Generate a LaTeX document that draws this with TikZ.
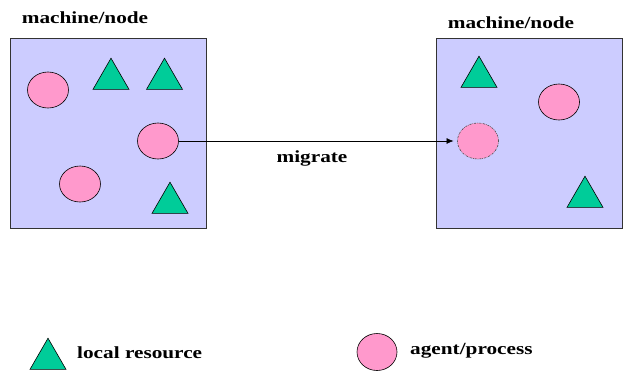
\documentclass[tikz,border=0pt]{standalone}
\usepackage{fontspec}
\setmainfont{Liberation Serif}[FakeStretch=1.25]
\usepackage{tikz}
\usetikzlibrary{arrows.meta}
\usetikzlibrary{positioning}
\usetikzlibrary{shapes.geometric}

\definecolor{boxfill}{RGB}{204,204,255}
\definecolor{agentpink}{RGB}{255,153,204}
\definecolor{resgreen}{RGB}{0,204,153}

\tikzset{
  machine/.style={draw=black!80,line width=0.8pt,fill=boxfill,
      inner sep=0pt,outer sep=0pt},
  agent/.style={ellipse,draw=black,line width=0.6pt,fill=agentpink,
      inner sep=0pt,outer sep=0pt,minimum width=41pt,minimum height=36pt},
  ghost/.style={agent,dash pattern={on 2pt off 1pt on 0.6pt off 1pt},
      draw=black!70},
  resource/.style={regular polygon,regular polygon sides=3,draw=black,
      line width=0.6pt,fill=resgreen,inner sep=0pt,outer sep=0pt,
      minimum size=41.6pt},
  lbl/.style={font=\fontsize{17}{20}\selectfont\bfseries,inner sep=0pt}
}

\begin{document}
\begin{tikzpicture}[x=1pt,y=-1pt]
  \useasboundingbox (0,0) rectangle (623,373);

  % the two machines
  \node[machine,minimum width=196pt,minimum height=190pt] (m_l) at (108,133) {};
  \node[machine,minimum width=186pt,minimum height=190pt] (m_r) at (529,133) {};
  \node[lbl,anchor=base] (t_l) at (85,23) {machine/node};
  \node[lbl,anchor=base] (t_r) at (511,28) {machine/node};

  % left machine
  \node[agent]    (a_1) at (48,90)  {};
  \node[agent]    (a_2) at (158,141) {};
  \node[agent]    (a_3) at (80,184) {};
  \node[resource] (r_1) at (111,79) {};
  \node[resource] (r_2) at (164.5,79) {};
  \node[resource] (r_3) at (170,203) {};

  % right machine
  \node[resource] (r_4) at (479,77) {};
  \node[agent]    (a_4) at (559,102) {};
  \node[ghost]    (a_5) at (478,141) {};
  \node[resource] (r_5) at (585,197) {};

  \path[-{Latex[length=7pt,width=6pt]},line width=0.6pt,shorten >=4pt]
    (a_2) edge node[lbl,below=9pt,xshift=-6pt] (t_m) {migrate} (a_5);

  % legend
  \node[resource] (k_r) at (48,359) {};
  \node[lbl,anchor=west] (k_rt) at (77,353) {local resource};
  \node[agent,minimum width=40pt,minimum height=37pt] (k_a) at (377,352) {};
  \node[lbl,anchor=west] (k_at) at (410,351) {agent/process};
\end{tikzpicture}
\end{document}
